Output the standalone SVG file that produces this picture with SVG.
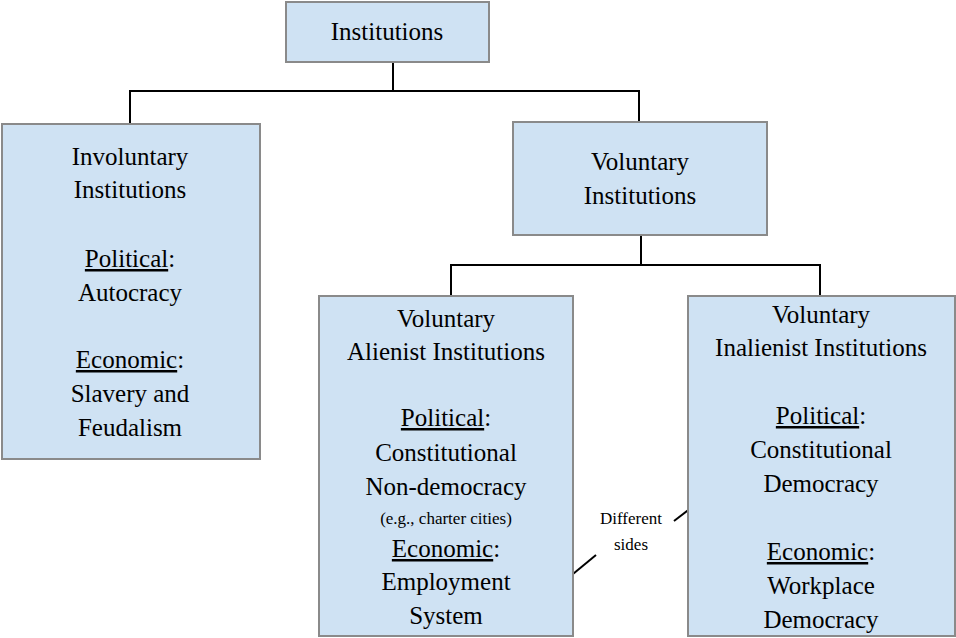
<svg xmlns="http://www.w3.org/2000/svg" width="956" height="638" viewBox="0 0 956 638">
<defs>
<marker id="ah" viewBox="0 0 10 10" refX="9" refY="5" markerWidth="7" markerHeight="7" orient="auto"><path d="M0,0 L10,5 L0,10 z" fill="#000"/></marker>
<style>
.box{fill:#cfe2f3;stroke:#8a8a8a;stroke-width:2}
text{font-family:"Liberation Serif",serif;font-size:25px;fill:#000;text-anchor:middle}
.s{font-size:17px}
.c{stroke:#000;stroke-width:2;fill:none}
</style>
</defs>
<rect width="956" height="638" fill="#fff"/>
<g id="connectors">
<path class="c" d="M393,62V91M130,124V91H639V122M641,235V265M451,296V265H820V296"/>
<line class="c" x1="596" y1="555" x2="556" y2="588" marker-end="url(#ah)"/>
<line class="c" x1="674" y1="521" x2="730" y2="478" marker-end="url(#ah)"/>
<text class="s" x="631" y="524">Different</text>
<text class="s" x="631" y="550">sides</text>
</g>
<g id="institutions"><rect class="box" x="286" y="2" width="203" height="60"/><text x="387" y="40">Institutions</text></g>
<g id="involuntary"><rect class="box" x="2" y="124" width="258" height="335"/>
<text x="130" y="165">Involuntary</text><text x="130" y="198">Institutions</text>
<text x="130" y="267"><tspan text-decoration="underline">Political</tspan>:</text><text x="130" y="301">Autocracy</text>
<text x="130" y="368"><tspan text-decoration="underline">Economic</tspan>:</text><text x="130" y="402">Slavery and</text><text x="130" y="436">Feudalism</text></g>
<g id="voluntary"><rect class="box" x="513" y="122" width="254" height="113"/>
<text x="640" y="170">Voluntary</text><text x="640" y="204">Institutions</text></g>
<g id="alienist"><rect class="box" x="319" y="296" width="254" height="340"/>
<text x="446" y="327">Voluntary</text><text x="446" y="360">Alienist Institutions</text>
<text x="446" y="426"><tspan text-decoration="underline">Political</tspan>:</text><text x="446" y="461">Constitutional</text><text x="446" y="495">Non-democracy</text>
<text class="s" x="446" y="524">(e.g., charter cities)</text>
<text x="446" y="557"><tspan text-decoration="underline">Economic</tspan>:</text><text x="446" y="590">Employment</text><text x="446" y="624">System</text></g>
<g id="inalienist"><rect class="box" x="688" y="296" width="267" height="340"/>
<text x="821" y="323">Voluntary</text><text x="821" y="356">Inalienist Institutions</text>
<text x="821" y="424"><tspan text-decoration="underline">Political</tspan>:</text><text x="821" y="458">Constitutional</text><text x="821" y="492">Democracy</text>
<text x="821" y="560"><tspan text-decoration="underline">Economic</tspan>:</text><text x="821" y="594">Workplace</text><text x="821" y="628">Democracy</text></g>
</svg>
